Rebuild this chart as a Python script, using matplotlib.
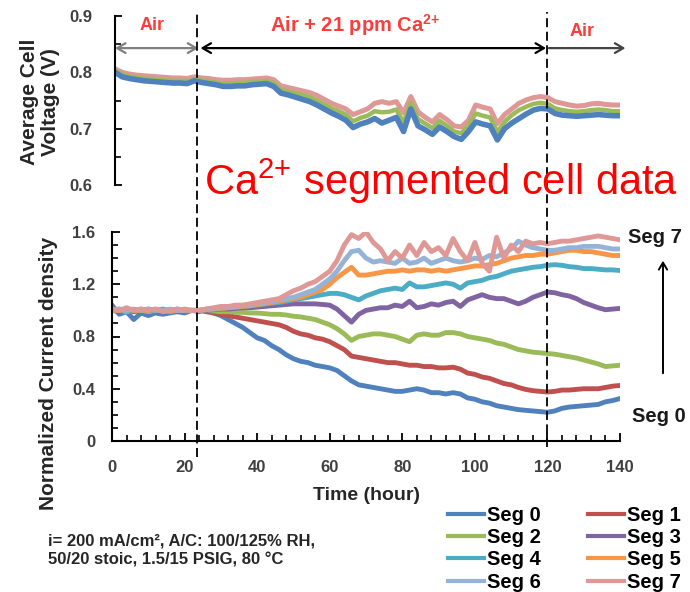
import matplotlib
matplotlib.use("Agg")
import matplotlib.pyplot as plt
import matplotlib.transforms as mtransforms
from matplotlib.lines import Line2D
from matplotlib.patches import FancyArrowPatch
from matplotlib.ticker import MultipleLocator, FixedLocator, FixedFormatter

plt.rcParams['font.family'] = ['Liberation Sans', 'DejaVu Sans']
plt.rcParams['mathtext.fontset'] = 'custom'
plt.rcParams['mathtext.rm'] = 'Liberation Sans'
plt.rcParams['mathtext.bf'] = 'Liberation Sans:bold'

# time axis (hours), sampled every 2 h
hours = list(range(0, 141, 2))

seg_names = ["Seg 0", "Seg 1", "Seg 2", "Seg 3", "Seg 4", "Seg 5", "Seg 6", "Seg 7"]
seg_colors = ["#4F81BD", "#C0504D", "#9BBB59", "#8064A2",
              "#4BACC6", "#F79646", "#95B3D7", "#DE9896"]

# normalized current density per segment
cur_seg0 = [1.04, 0.97, 0.99, 0.93, 0.98, 0.96, 0.98, 0.97, 0.98, 0.99, 0.98, 1.00,
            0.99, 1.01, 0.98, 0.96, 0.93, 0.90, 0.87, 0.83, 0.79, 0.77, 0.73, 0.70,
            0.66, 0.63, 0.61, 0.60, 0.58, 0.57, 0.56, 0.54, 0.50, 0.46, 0.43, 0.42,
            0.41, 0.40, 0.39, 0.38, 0.38, 0.39, 0.40, 0.39, 0.37, 0.37, 0.36, 0.37,
            0.36, 0.33, 0.32, 0.30, 0.29, 0.27, 0.26, 0.25, 0.24, 0.235, 0.23, 0.225,
            0.22, 0.23, 0.25, 0.26, 0.265, 0.27, 0.275, 0.28, 0.30, 0.31, 0.325]
cur_seg1 = [1.00, 0.99, 1.00, 0.99, 1.00, 0.99, 1.00, 0.99, 1.00, 0.99, 1.00, 1.00,
            1.00, 0.99, 0.98, 0.97, 0.96, 0.95, 0.94, 0.93, 0.92, 0.91, 0.90, 0.89,
            0.87, 0.84, 0.82, 0.81, 0.79, 0.78, 0.76, 0.73, 0.70, 0.65, 0.64, 0.63,
            0.62, 0.61, 0.60, 0.60, 0.59, 0.58, 0.58, 0.57, 0.57, 0.56, 0.56, 0.565,
            0.55, 0.52, 0.51, 0.49, 0.48, 0.46, 0.44, 0.43, 0.41, 0.395, 0.385, 0.38,
            0.375, 0.38, 0.39, 0.39, 0.395, 0.40, 0.40, 0.40, 0.41, 0.42, 0.425]
cur_seg2 = [1.00, 1.00, 0.99, 1.00, 1.00, 0.99, 1.00, 1.00, 0.99, 1.00, 1.00, 1.00,
            1.00, 1.00, 0.995, 0.99, 0.99, 0.985, 0.985, 0.98, 0.98, 0.975, 0.97, 0.97,
            0.965, 0.955, 0.95, 0.94, 0.93, 0.91, 0.89, 0.86, 0.82, 0.77, 0.80, 0.81,
            0.82, 0.82, 0.81, 0.80, 0.78, 0.76, 0.81, 0.82, 0.81, 0.81, 0.83, 0.83,
            0.82, 0.80, 0.79, 0.78, 0.77, 0.75, 0.74, 0.72, 0.70, 0.69, 0.68, 0.675,
            0.67, 0.665, 0.655, 0.645, 0.635, 0.62, 0.605, 0.59, 0.57, 0.575, 0.58]
cur_seg3 = [1.00, 1.00, 1.01, 1.00, 1.00, 1.01, 1.00, 1.00, 1.00, 1.01, 1.00, 1.00,
            1.00, 1.00, 1.005, 1.01, 1.01, 1.015, 1.02, 1.02, 1.025, 1.03, 1.035, 1.04,
            1.045, 1.05, 1.05, 1.05, 1.05, 1.045, 1.04, 1.01, 0.96, 0.91, 0.97, 1.00,
            1.01, 1.02, 1.02, 1.04, 1.03, 1.07, 1.02, 1.03, 1.05, 1.04, 1.06, 1.07,
            1.03, 1.08, 1.10, 1.12, 1.10, 1.09, 1.09, 1.07, 1.05, 1.07, 1.10, 1.12,
            1.14, 1.135, 1.12, 1.11, 1.09, 1.06, 1.04, 1.02, 1.005, 1.01, 1.015]
cur_seg4 = [1.00, 1.01, 1.00, 1.00, 1.01, 1.00, 1.00, 1.01, 1.00, 1.00, 1.00, 1.00,
            1.00, 1.005, 1.01, 1.015, 1.02, 1.025, 1.03, 1.035, 1.04, 1.05, 1.055, 1.06,
            1.07, 1.08, 1.09, 1.10, 1.11, 1.12, 1.13, 1.13, 1.12, 1.10, 1.08, 1.11,
            1.13, 1.15, 1.16, 1.17, 1.16, 1.21, 1.18, 1.18, 1.19, 1.20, 1.21, 1.20,
            1.17, 1.21, 1.22, 1.23, 1.25, 1.26, 1.28, 1.30, 1.31, 1.32, 1.33, 1.335,
            1.345, 1.35, 1.345, 1.335, 1.33, 1.32, 1.32, 1.315, 1.31, 1.31, 1.305]
cur_seg5 = [1.00, 1.00, 1.01, 1.00, 1.00, 1.00, 1.01, 1.00, 1.00, 1.00, 1.01, 1.00,
            1.00, 1.005, 1.01, 1.015, 1.02, 1.025, 1.03, 1.035, 1.045, 1.05, 1.06, 1.07,
            1.08, 1.09, 1.10, 1.12, 1.14, 1.16, 1.20, 1.25, 1.29, 1.33, 1.27, 1.27,
            1.28, 1.29, 1.30, 1.30, 1.31, 1.30, 1.31, 1.31, 1.30, 1.31, 1.30, 1.31,
            1.32, 1.33, 1.34, 1.34, 1.35, 1.36, 1.38, 1.40, 1.41, 1.42, 1.42, 1.43,
            1.43, 1.44, 1.45, 1.46, 1.46, 1.45, 1.45, 1.44, 1.43, 1.42, 1.42]
cur_seg6 = [1.00, 1.01, 1.00, 1.01, 1.00, 1.01, 1.00, 1.00, 1.01, 1.00, 1.00, 1.00,
            1.00, 1.01, 1.015, 1.02, 1.025, 1.03, 1.035, 1.04, 1.05, 1.06, 1.07, 1.08,
            1.09, 1.10, 1.12, 1.14, 1.16, 1.20, 1.24, 1.30, 1.38, 1.45, 1.46, 1.40,
            1.37, 1.38, 1.37, 1.36, 1.40, 1.36, 1.37, 1.40, 1.36, 1.38, 1.40, 1.38,
            1.37, 1.38, 1.40, 1.39, 1.42, 1.41, 1.44, 1.47, 1.53, 1.50, 1.48, 1.47,
            1.46, 1.46, 1.47, 1.48, 1.48, 1.49, 1.49, 1.49, 1.48, 1.47, 1.47]
cur_seg7 = [1.01, 1.00, 1.02, 1.00, 1.01, 1.00, 1.01, 0.99, 1.00, 1.01, 1.00, 1.00,
            1.00, 1.01, 1.02, 1.03, 1.03, 1.04, 1.04, 1.05, 1.06, 1.07, 1.08, 1.09,
            1.12, 1.15, 1.17, 1.20, 1.22, 1.26, 1.30, 1.38, 1.50, 1.58, 1.55, 1.60,
            1.52, 1.47, 1.38, 1.45, 1.40, 1.50, 1.42, 1.52, 1.45, 1.48, 1.42, 1.55,
            1.45, 1.38, 1.52, 1.36, 1.30, 1.56, 1.40, 1.50, 1.45, 1.53, 1.51, 1.52,
            1.51, 1.52, 1.53, 1.53, 1.54, 1.55, 1.56, 1.57, 1.56, 1.55, 1.54]

# average cell voltage (V) - lowest, middle and highest segment traces
volt_seg0 = [0.800, 0.792, 0.789, 0.787, 0.785, 0.784, 0.783, 0.782, 0.781, 0.781, 0.780, 0.785,
             0.782, 0.780, 0.778, 0.775, 0.775, 0.776, 0.776, 0.778, 0.779, 0.780, 0.775, 0.763,
             0.760, 0.756, 0.752, 0.748, 0.742, 0.735, 0.728, 0.722, 0.715, 0.702, 0.708, 0.712,
             0.718, 0.710, 0.715, 0.720, 0.695, 0.735, 0.705, 0.698, 0.690, 0.703, 0.695, 0.686,
             0.681, 0.695, 0.712, 0.708, 0.705, 0.680, 0.700, 0.710, 0.718, 0.726, 0.733, 0.736,
             0.735, 0.727, 0.724, 0.723, 0.722, 0.723, 0.724, 0.725, 0.724, 0.723, 0.723]
volt_seg2 = [0.803, 0.796, 0.793, 0.791, 0.789, 0.788, 0.787, 0.786, 0.785, 0.785, 0.784, 0.788,
             0.786, 0.784, 0.782, 0.780, 0.780, 0.781, 0.781, 0.783, 0.784, 0.785, 0.781, 0.769,
             0.766, 0.763, 0.760, 0.756, 0.750, 0.743, 0.736, 0.731, 0.725, 0.713, 0.719, 0.723,
             0.731, 0.729, 0.730, 0.734, 0.711, 0.746, 0.717, 0.709, 0.701, 0.714, 0.705, 0.695,
             0.692, 0.705, 0.727, 0.723, 0.720, 0.694, 0.712, 0.724, 0.733, 0.739, 0.744, 0.746,
             0.744, 0.736, 0.733, 0.731, 0.730, 0.731, 0.733, 0.734, 0.733, 0.731, 0.731]
volt_seg7 = [0.806, 0.800, 0.797, 0.795, 0.794, 0.793, 0.792, 0.791, 0.790, 0.790, 0.789, 0.792,
             0.790, 0.789, 0.787, 0.786, 0.786, 0.787, 0.787, 0.788, 0.789, 0.790, 0.787, 0.776,
             0.773, 0.770, 0.767, 0.764, 0.759, 0.752, 0.745, 0.740, 0.735, 0.725, 0.730, 0.735,
             0.745, 0.748, 0.745, 0.748, 0.728, 0.757, 0.730, 0.720, 0.712, 0.725, 0.716, 0.705,
             0.703, 0.715, 0.742, 0.738, 0.735, 0.709, 0.725, 0.735, 0.745, 0.751, 0.755, 0.757,
             0.755, 0.748, 0.745, 0.742, 0.740, 0.741, 0.744, 0.745, 0.743, 0.742, 0.742]

# phase boundaries (hours)
ca_start = 23.5
ca_stop = 120

x_ticks = [0, 20, 40, 60, 80, 100, 120, 140]
cur_ticks = [0, 0.4, 0.8, 1.2, 1.6]
cur_tick_labels = ["0", "0.4", "0.8", "1.2", "1.6"]
volt_ticks = [0.6, 0.7, 0.8, 0.9]
volt_tick_labels = ["0.6", "0.7", "0.8", "0.9"]

current = [cur_seg0, cur_seg1, cur_seg2, cur_seg3, cur_seg4, cur_seg5, cur_seg6, cur_seg7]

W, H = 690, 592
fig = plt.figure(figsize=(W / 100, H / 100), dpi=100)


def fx(px):
    return px / W


def fy(py):
    return 1 - py / H


tick_color = "#404040"
ax_top = fig.add_axes([fx(115), fy(185), fx(620) - fx(115), fy(16) - fy(185)])
ax_bot = fig.add_axes([fx(112), fy(441), fx(620) - fx(112), fy(232) - fy(441)])

# --- voltage panel
ax_top.plot(hours, volt_seg7, color=seg_colors[7], lw=3.6)
ax_top.plot(hours, volt_seg2, color=seg_colors[2], lw=3.2)
ax_top.plot(hours, volt_seg0, color=seg_colors[0], lw=4.0)
ax_top.set_xlim(0, 140)
ax_top.set_ylim(0.6, 0.9)
for side in ["top", "right", "bottom"]:
    ax_top.spines[side].set_visible(False)
ax_top.spines["left"].set_linewidth(1.5)
ax_top.set_xticks([])
ax_top.yaxis.set_major_locator(FixedLocator(volt_ticks))
ax_top.yaxis.set_major_formatter(FixedFormatter(volt_tick_labels))
ax_top.yaxis.set_minor_locator(MultipleLocator(0.05))
ax_top.tick_params(axis="y", which="major", direction="in", length=5, width=1.3,
                   pad=16, labelsize=12, labelcolor=tick_color)
ax_top.tick_params(axis="y", which="minor", direction="in", length=4, width=1.2)
for lab in ax_top.get_yticklabels():
    lab.set_fontweight("bold")

# phase arrows
arrow_v = 0.843
ax_top.annotate("", xy=(0, arrow_v), xytext=(ca_start - 0.4, arrow_v),
                arrowprops=dict(arrowstyle="<->,head_length=0.6,head_width=0.35",
                                color="#7f7f7f", lw=1.6, shrinkA=0, shrinkB=0))
ax_top.annotate("", xy=(ca_start + 0.2, arrow_v), xytext=(ca_stop - 0.5, arrow_v),
                arrowprops=dict(arrowstyle="<->,head_length=0.6,head_width=0.35",
                                color="black", lw=1.6, shrinkA=0, shrinkB=0))
ax_top.annotate("", xy=(141.5, arrow_v), xytext=(ca_stop + 0.3, arrow_v),
                arrowprops=dict(arrowstyle="->,head_length=0.6,head_width=0.35",
                                color="#444444", lw=1.6, shrinkA=0, shrinkB=0),
                annotation_clip=False)

red_lbl = "#FF3B3B"
fig.text(fx(152), fy(26), "Air", color=red_lbl, fontsize=13, fontweight="bold",
         ha="center", va="center")
fig.text(fx(270), fy(25), r"Air + 21 ppm Ca$^{\mathbf{2{+}}}$", color=red_lbl, fontsize=14.5,
         fontweight="bold", ha="left", va="center")
fig.text(fx(582), fy(32), "Air", color=red_lbl, fontsize=13, fontweight="bold",
         ha="center", va="center")

fig.text(fx(40), fy(102), "Average Cell\nVoltage (V)", rotation=90, fontsize=15,
         fontweight="bold", ha="center", va="center", linespacing=1.15, color="#262626")

fig.text(fx(204), fy(195), r"Ca$^{2{+}}$ segmented cell data", color="#FF0000",
         fontsize=30, ha="left", va="baseline")

# --- current density panel
for vals, color in zip(current, seg_colors):
    ax_bot.plot(hours, vals, color=color, lw=3.5)
ax_bot.set_xlim(0, 140)
ax_bot.set_ylim(0, 1.6)
for side in ["top", "right"]:
    ax_bot.spines[side].set_visible(False)
for side in ["left", "bottom"]:
    ax_bot.spines[side].set_linewidth(1.5)
ax_bot.xaxis.set_major_locator(FixedLocator(x_ticks))
ax_bot.xaxis.set_minor_locator(MultipleLocator(4))
ax_bot.yaxis.set_major_locator(FixedLocator(cur_ticks))
ax_bot.yaxis.set_major_formatter(FixedFormatter(cur_tick_labels))
ax_bot.yaxis.set_minor_locator(MultipleLocator(0.1))
ax_bot.tick_params(which="major", direction="in", length=6, width=1.3,
                   labelsize=12, labelcolor=tick_color)
ax_bot.tick_params(axis="x", which="major", pad=14)
ax_bot.tick_params(axis="y", which="major", pad=12)
ax_bot.tick_params(which="minor", direction="in", length=4, width=1.2)
for lab in ax_bot.get_xticklabels() + ax_bot.get_yticklabels():
    lab.set_fontweight("bold")

fig.text(fx(366), fy(495), "Time (hour)", fontsize=14, fontweight="bold",
         ha="center", va="center", color="#262626")
fig.text(fx(49), fy(373), "Normalized Current density", rotation=90, fontsize=15,
         fontweight="bold", ha="center", va="center", color="#262626")

# dashed phase boundaries across both panels
trans = mtransforms.blended_transform_factory(ax_bot.transData, fig.transFigure)
fig.add_artist(Line2D([ca_start, ca_start], [fy(457), fy(12)], transform=trans,
                      color="black", lw=1.3, ls=(0, (5, 2.5))))
fig.add_artist(Line2D([ca_stop, ca_stop], [fy(447), fy(12)], transform=trans,
                      color="black", lw=1.3, ls=(0, (5, 2.5))))

# segment order annotation
fig.text(fx(628), fy(238), "Seg 7", fontsize=14.5, fontweight="bold", ha="left",
         va="center", color="#1a1a1a")
fig.text(fx(632), fy(417), "Seg 0", fontsize=14.5, fontweight="bold", ha="left",
         va="center", color="#1a1a1a")
fig.add_artist(FancyArrowPatch(
    (fx(663), fy(376)), (fx(663), fy(258)), transform=fig.transFigure,
    arrowstyle="->,head_length=5,head_width=3", color="black", lw=1.4))

# test conditions
fig.text(fx(48), fy(533), "i= 200 mA/cm², A/C: 100/125% RH,\n50/20 stoic, 1.5/15 PSIG, 80 °C",
         fontsize=12, fontweight="bold", ha="left", va="top", linespacing=1.4,
         color="#262626")

# legend, filled row by row
handles = [Line2D([], [], color=c, lw=3) for c in seg_colors]
order = [0, 2, 4, 6, 1, 3, 5, 7]
fig.legend([handles[i] for i in order], [seg_names[i] for i in order],
           loc="upper left", bbox_to_anchor=(fx(448), fy(506)), ncol=2, frameon=False,
           prop={"size": 14.5, "weight": "bold"}, handlelength=1.8, handletextpad=0.12,
           columnspacing=2.35, labelspacing=0.16, borderaxespad=0, borderpad=0)

fig.savefig("out.png", dpi=100)
